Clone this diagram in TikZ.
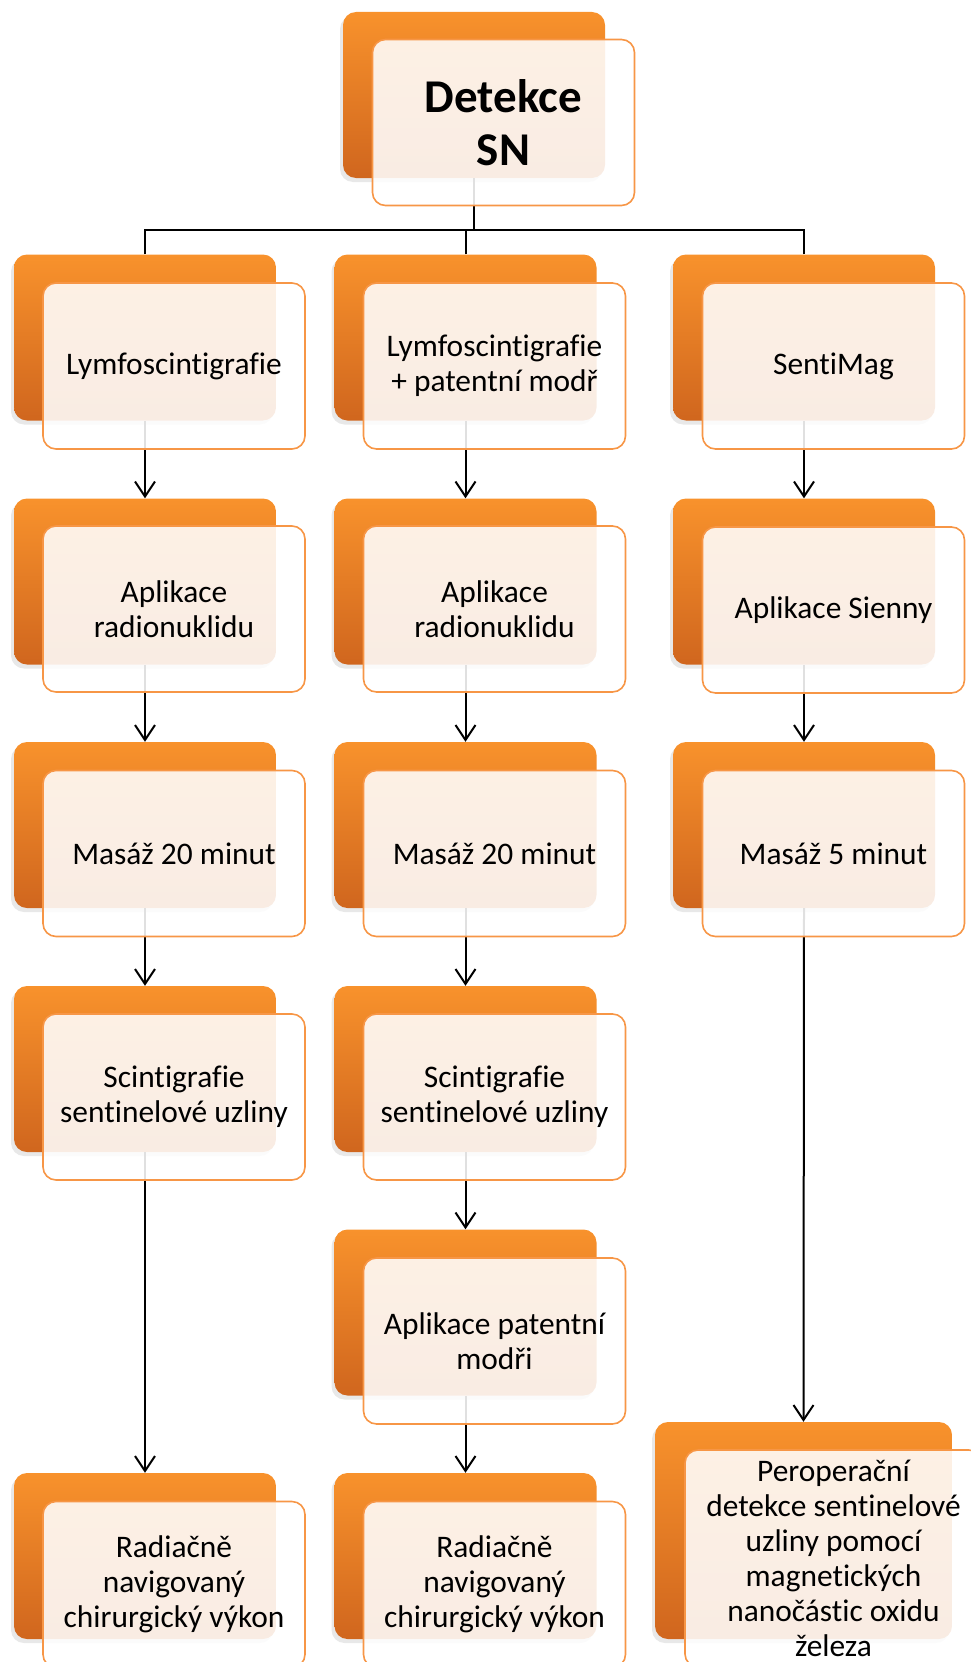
\documentclass[tikz,border=0pt]{standalone}
\usepackage{fontspec}
\setmainfont{Carlito}[Ligatures=NoCommon]
\usetikzlibrary{arrows.meta,shadows}
\definecolor{orgtop}{HTML}{F8922C}
\definecolor{orgbot}{HTML}{D0661E}
\definecolor{frontline}{HTML}{F79646}
\tikzset{
  backbox/.style={rectangle, rounded corners=13pt, minimum width=262pt, minimum height=166pt,
    inner sep=0pt, top color=orgtop, bottom color=orgbot, draw=none,
    drop shadow={shadow xshift=-3pt, shadow yshift=-4pt, opacity=0.18}},
  frontbox/.style={rectangle, rounded corners=13pt, minimum width=262pt, minimum height=166pt,
    inner sep=2pt, draw=frontline, line width=1.6pt, fill=white, fill opacity=0.88, text opacity=1,
    align=center, font=\fontsize{31.4}{35}\selectfont},
  conn/.style={line width=2pt, black},
  arr/.style={conn, -{Straight Barb[length=15pt,width=20pt,line width=2pt]}}
}
\begin{document}
\begin{tikzpicture}[x=1pt,y=-1pt]
\useasboundingbox (0,0) rectangle (971,1662);
% back boxes
\node[backbox] (t0) at (474,95) {};
\node[backbox] (a1) at (145,337.5) {};
\node[backbox] (a2) at (145,581.5) {};
\node[backbox] (a3) at (145,825) {};
\node[backbox] (a4) at (145,1069) {};
\node[backbox] (a6) at (145,1556) {};
\node[backbox] (b1) at (465.5,337.5) {};
\node[backbox] (b2) at (465.5,581.5) {};
\node[backbox] (b3) at (465.5,825) {};
\node[backbox] (b4) at (465.5,1069) {};
\node[backbox] (b5) at (465.5,1312.5) {};
\node[backbox] (b6) at (465.5,1556) {};
\node[backbox] (c1) at (804,337.5) {};
\node[backbox] (c2) at (804,581.5) {};
\node[backbox] (c3) at (804,825) {};
\node[backbox, minimum width=297pt, minimum height=217pt] (c6) at (803.5,1530.5) {};
% connectors
\coordinate (bus) at (474,230);
\draw[conn] (t0.south) -- (bus);
\draw[conn] (a1.north) |- (bus);
\draw[conn] (b1.north) |- (bus);
\draw[conn] (c1.north) |- (bus);
\draw[arr] (a1.south) -- (a2.north);
\draw[arr] (a2.south) -- (a3.north);
\draw[arr] (a3.south) -- (a4.north);
\draw[arr] (a4.south) -- (a6.north);
\draw[arr] (b1.south) -- (b2.north);
\draw[arr] (b2.south) -- (b3.north);
\draw[arr] (b3.south) -- (b4.north);
\draw[arr] (b4.south) -- (b5.north);
\draw[arr] (b5.south) -- (b6.north);
\draw[arr] (c1.south) -- (c2.north);
\draw[arr] (c2.south) -- (c3.north);
\draw[arr] (c3.south) -- (c6.north);
% front boxes
\node[frontbox, font=\fontsize{47}{53}\selectfont\bfseries] (t0f) at (503.5,122.5) {Detekce\\SN};
\node[frontbox] (a1f) at (174,366) {Lymfoscintigrafie};
\node[frontbox] (a2f) at (174,609) {Aplikace\\radionuklidu};
\node[frontbox] (a3f) at (174,853.5) {Masáž 20 minut};
\node[frontbox] (a4f) at (174,1097) {Scintigrafie\\sentinelové uzliny};
\node[frontbox] (a6f) at (174,1584.5) {Radiačně\\navigovaný\\chirurgický výkon};
\node[frontbox] (b1f) at (494.5,366) {Lymfoscintigrafie\\+ patentní modř};
\node[frontbox] (b2f) at (494.5,609) {Aplikace\\radionuklidu};
\node[frontbox] (b3f) at (494.5,853.5) {Masáž 20 minut};
\node[frontbox] (b4f) at (494.5,1097) {Scintigrafie\\sentinelové uzliny};
\node[frontbox] (b5f) at (494.5,1341) {Aplikace patentní\\modři};
\node[frontbox] (b6f) at (494.5,1584.5) {Radiačně\\navigovaný\\chirurgický výkon};
\node[frontbox] (c1f) at (833.5,366) {SentiMag};
\node[frontbox] (c2f) at (833.5,610) {Aplikace Sienny};
\node[frontbox] (c3f) at (833.5,853.5) {Masáž 5 minut};
\node[frontbox, minimum width=297pt, minimum height=217pt] (c6f) at (833.5,1558.5) {Peroperační\\detekce sentinelové\\uzliny pomocí\\magnetických\\nanočástic oxidu\\železa};
\end{tikzpicture}
\end{document}
